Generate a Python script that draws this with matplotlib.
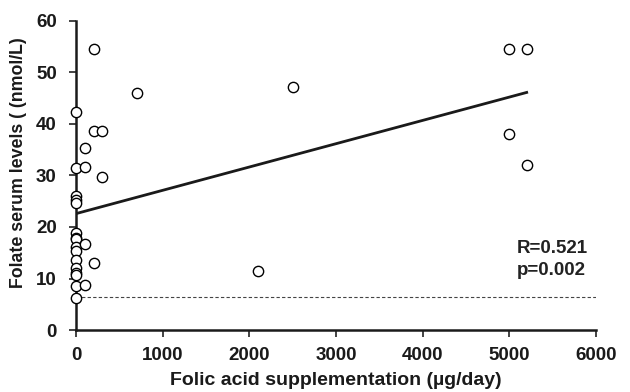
import matplotlib
matplotlib.use('Agg')
import matplotlib.pyplot as plt

plt.rcParams['font.family'] = ['Liberation Sans', 'DejaVu Sans']
plt.rcParams['font.weight'] = 'bold'

# folic acid supplementation (ug/day) vs folate serum level (nmol/L)
supp = [200, 700, 0, 200, 300, 100, 0, 100, 300,
        0, 0, 0, 0, 0, 0, 0, 0, 100, 0,
        0, 0, 0, 200, 0, 100, 0, 2100, 2500,
        5000, 5200, 5000, 5200]
folate = [54.5, 45.9, 42.3, 38.6, 38.6, 35.3, 31.4, 31.7, 29.6,
          26.0, 25.2, 24.7, 18.8, 17.8, 17.6, 16.2, 15.4, 16.6, 13.6,
          12.0, 11.0, 10.7, 13.0, 8.5, 8.7, 6.3, 11.5, 47.2,
          54.5, 54.5, 38.1, 32.1]

# regression line end points
fit_x = [0, 5200]
fit_y = [22.6, 46.1]

# reference level (dashed)
ref_x = [0, 6000]
ref_y = [6.5, 6.5]

xticks = [0, 1000, 2000, 3000, 4000, 5000, 6000]
yticks = [0, 10, 20, 30, 40, 50, 60]

fig = plt.figure(figsize=(6.3, 3.92), dpi=100)
ax = fig.add_axes([0.121, 0.158, 0.825, 0.789])

ax.plot(ref_x, ref_y, color='#444444', linestyle=(0, (3, 2)), linewidth=0.8)
ax.plot(fit_x, fit_y, color='#1a1a1a', linewidth=2)
ax.scatter(supp, folate, s=55, facecolors='white', edgecolors='black',
           linewidths=1, zorder=3, clip_on=False)

ax.set_xlim(0, 6000)
ax.set_ylim(0, 60)
ax.set_xticks(xticks)
ax.set_yticks(yticks)
ax.tick_params(labelsize=13.5, width=1.2, length=5, color='#222222',
               labelcolor='#1a1a1a')
ax.tick_params(axis='x', pad=7)
ax.tick_params(axis='y', pad=9)
for side in ['top', 'right']:
    ax.spines[side].set_visible(False)
for side in ['left', 'bottom']:
    ax.spines[side].set_linewidth(1.8)
    ax.spines[side].set_color('#1a1a1a')

ax.set_xlabel('Folic acid supplementation (µg/day)', fontsize=14,
              fontweight='bold', color='#1a1a1a')
ax.set_ylabel('Folate serum levels ( (nmol/L)', fontsize=12.8,
              fontweight='bold', color='#1a1a1a')
ax.xaxis.set_label_coords(0.5, -0.135)
ax.yaxis.set_label_coords(-0.095, 0.54)

ax.text(5090, 13.7, 'R=0.521\np=0.002', fontsize=13.5, fontweight='bold',
        ha='left', va='center', linespacing=1.45, color='#222222')

fig.savefig('out.png', dpi=100)
